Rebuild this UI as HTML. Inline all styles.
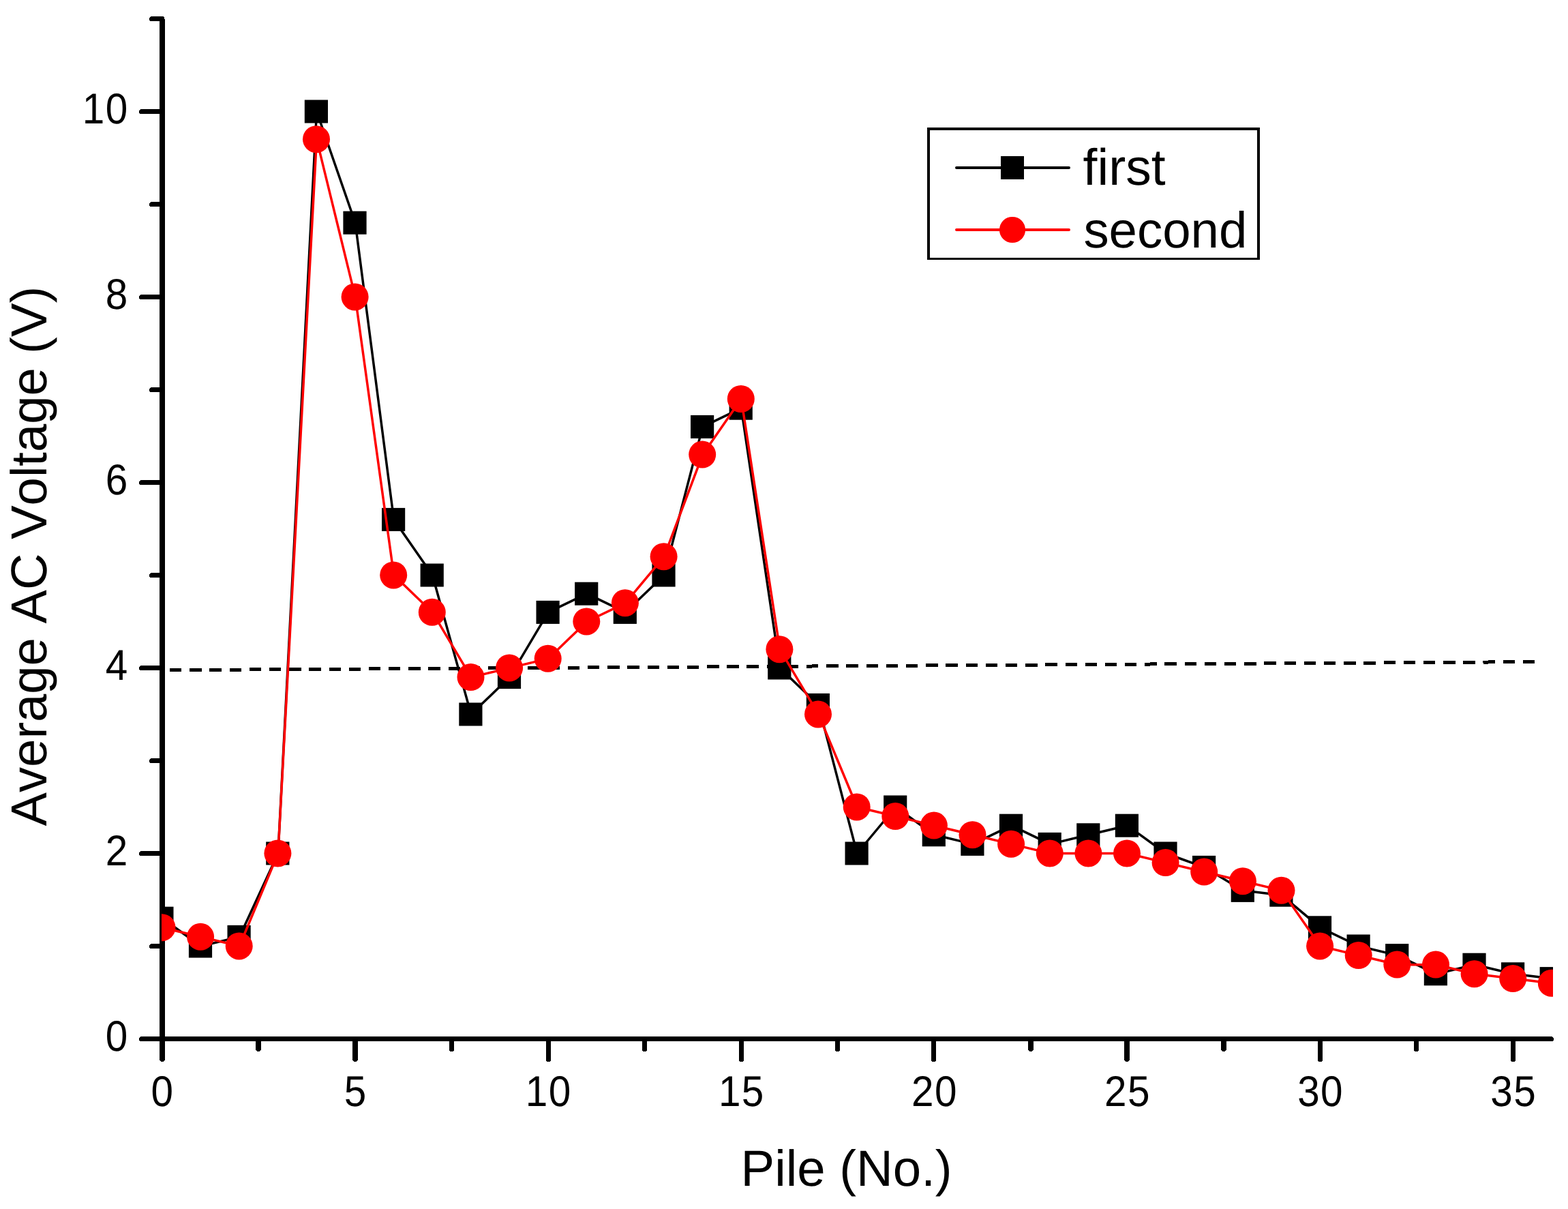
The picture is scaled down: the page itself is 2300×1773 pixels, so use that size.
<!DOCTYPE html>
<html lang="en"><head><meta charset="utf-8"><title>Average AC Voltage vs Pile No.</title>
<style>html,body{margin:0;padding:0;background:#fff}body{width:2300px;height:1773px;overflow:hidden}svg{display:block}text{font-family:"Liberation Sans",Arial,Helvetica,sans-serif;fill:#000;font-kerning:none;text-rendering:geometricPrecision}</style>
</head><body>
<svg width="2300" height="1773" viewBox="0 0 2300 1773">
<rect width="2300" height="1773" fill="#fff"/>
<defs><clipPath id="plot"><rect x="237" y="20" width="2041" height="1510"/></clipPath></defs>
<line x1="249" y1="982.7" x2="2251" y2="970.6" stroke="#000" stroke-width="5" stroke-dasharray="17.4 11.79" shape-rendering="crispEdges"/>
<g stroke="#000" fill="none" stroke-linecap="round" shape-rendering="crispEdges">
<line x1="238" y1="27.5" x2="238" y2="1523.5" stroke-width="8" stroke-linecap="butt"/>
<line x1="207.5" y1="1523.5" x2="2275.5" y2="1523.5" stroke-width="7"/>
<line x1="222.5" y1="1387.5" x2="238" y2="1387.5" stroke-width="7"/>
<line x1="207.5" y1="1251.5" x2="238" y2="1251.5" stroke-width="7"/>
<line x1="222.5" y1="1115.5" x2="238" y2="1115.5" stroke-width="7"/>
<line x1="207.5" y1="979.5" x2="238" y2="979.5" stroke-width="7"/>
<line x1="222.5" y1="843.5" x2="238" y2="843.5" stroke-width="7"/>
<line x1="207.5" y1="707.5" x2="238" y2="707.5" stroke-width="7"/>
<line x1="222.5" y1="571.5" x2="238" y2="571.5" stroke-width="7"/>
<line x1="207.5" y1="435.5" x2="238" y2="435.5" stroke-width="7"/>
<line x1="222.5" y1="299.5" x2="238" y2="299.5" stroke-width="7"/>
<line x1="207.5" y1="163.5" x2="238" y2="163.5" stroke-width="7"/>
<line x1="222.5" y1="27.5" x2="238" y2="27.5" stroke-width="7"/>
<line x1="238" y1="1523.5" x2="238" y2="1553" stroke-width="8"/>
<line x1="379" y1="1523.5" x2="379" y2="1538" stroke-width="8"/>
<line x1="521" y1="1523.5" x2="521" y2="1553" stroke-width="8"/>
<line x1="662.5" y1="1523.5" x2="662.5" y2="1538.5" stroke-width="7"/>
<line x1="804.5" y1="1523.5" x2="804.5" y2="1553.5" stroke-width="7"/>
<line x1="945.5" y1="1523.5" x2="945.5" y2="1538.5" stroke-width="7"/>
<line x1="1087.5" y1="1523.5" x2="1087.5" y2="1553.5" stroke-width="7"/>
<line x1="1228.5" y1="1523.5" x2="1228.5" y2="1538.5" stroke-width="7"/>
<line x1="1369.5" y1="1523.5" x2="1369.5" y2="1553.5" stroke-width="7"/>
<line x1="1512" y1="1523.5" x2="1512" y2="1538" stroke-width="8"/>
<line x1="1653" y1="1523.5" x2="1653" y2="1553" stroke-width="8"/>
<line x1="1795" y1="1523.5" x2="1795" y2="1538" stroke-width="8"/>
<line x1="1936.5" y1="1523.5" x2="1936.5" y2="1553.5" stroke-width="7"/>
<line x1="2077.5" y1="1523.5" x2="2077.5" y2="1538.5" stroke-width="7"/>
<line x1="2219.5" y1="1523.5" x2="2219.5" y2="1553.5" stroke-width="7"/>
</g>
<g font-size="62" letter-spacing="1.45">
<text transform="translate(188.6,1541.0) scale(0.943,1.02)" text-anchor="end">0</text>
<text transform="translate(188.6,1269.0) scale(0.943,1.02)" text-anchor="end">2</text>
<text transform="translate(188.6,997.0) scale(0.943,1.02)" text-anchor="end">4</text>
<text transform="translate(188.6,725.0) scale(0.943,1.02)" text-anchor="end">6</text>
<text transform="translate(188.6,453.0) scale(0.943,1.02)" text-anchor="end">8</text>
<text transform="translate(188.6,181.0) scale(0.943,1.02)" text-anchor="end">10</text>
<text transform="translate(238.5,1622.3) scale(0.943,1.02)" text-anchor="middle">0</text>
<text transform="translate(521.6,1622.3) scale(0.943,1.02)" text-anchor="middle">5</text>
<text transform="translate(804.7,1622.3) scale(0.943,1.02)" text-anchor="middle">10</text>
<text transform="translate(1087.8,1622.3) scale(0.943,1.02)" text-anchor="middle">15</text>
<text transform="translate(1370.9,1622.3) scale(0.943,1.02)" text-anchor="middle">20</text>
<text transform="translate(1654.0,1622.3) scale(0.943,1.02)" text-anchor="middle">25</text>
<text transform="translate(1937.1,1622.3) scale(0.943,1.02)" text-anchor="middle">30</text>
<text transform="translate(2220.2,1622.3) scale(0.943,1.02)" text-anchor="middle">35</text>
</g>
<text x="1241.6" y="1739" font-size="74.4" text-anchor="middle">Pile (No.)</text>
<text transform="translate(68,815.6) rotate(-90)" font-size="74.2" text-anchor="middle">Average AC Voltage (V)</text>
<g clip-path="url(#plot)">
<polyline points="238.0,1346.7 294.6,1387.5 351.2,1373.9 407.9,1251.5 464.5,163.5 521.1,326.7 577.7,761.9 634.3,843.5 691.0,1047.5 747.6,993.1 804.2,897.9 860.8,870.7 917.4,897.9 974.1,843.5 1030.7,625.9 1087.3,598.7 1143.9,979.5 1200.5,1033.9 1257.2,1251.5 1313.8,1183.5 1370.4,1224.3 1427.0,1237.9 1483.6,1210.7 1540.3,1237.9 1596.9,1224.3 1653.5,1210.7 1710.1,1251.5 1766.7,1271.9 1823.4,1305.9 1880.0,1312.7 1936.6,1360.3 1993.2,1387.5 2049.8,1401.1 2106.5,1428.3 2163.1,1414.7 2219.7,1428.3 2276.3,1435.1" fill="none" stroke="#000" stroke-width="3.5" stroke-linejoin="round"/>
<g fill="#000">
<rect x="220.3" y="1329.7" width="34.2" height="34"/>
<rect x="276.9" y="1370.5" width="34.2" height="34"/>
<rect x="333.5" y="1356.9" width="34.2" height="34"/>
<rect x="390.2" y="1234.5" width="34.2" height="34"/>
<rect x="446.8" y="146.5" width="34.2" height="34"/>
<rect x="503.4" y="309.7" width="34.2" height="34"/>
<rect x="560.0" y="744.9" width="34.2" height="34"/>
<rect x="616.6" y="826.5" width="34.2" height="34"/>
<rect x="673.3" y="1030.5" width="34.2" height="34"/>
<rect x="729.9" y="976.1" width="34.2" height="34"/>
<rect x="786.5" y="880.9" width="34.2" height="34"/>
<rect x="843.1" y="853.7" width="34.2" height="34"/>
<rect x="899.7" y="880.9" width="34.2" height="34"/>
<rect x="956.4" y="826.5" width="34.2" height="34"/>
<rect x="1013.0" y="608.9" width="34.2" height="34"/>
<rect x="1069.6" y="581.7" width="34.2" height="34"/>
<rect x="1126.2" y="962.5" width="34.2" height="34"/>
<rect x="1182.8" y="1016.9" width="34.2" height="34"/>
<rect x="1239.5" y="1234.5" width="34.2" height="34"/>
<rect x="1296.1" y="1166.5" width="34.2" height="34"/>
<rect x="1352.7" y="1207.3" width="34.2" height="34"/>
<rect x="1409.3" y="1220.9" width="34.2" height="34"/>
<rect x="1465.9" y="1193.7" width="34.2" height="34"/>
<rect x="1522.6" y="1220.9" width="34.2" height="34"/>
<rect x="1579.2" y="1207.3" width="34.2" height="34"/>
<rect x="1635.8" y="1193.7" width="34.2" height="34"/>
<rect x="1692.4" y="1234.5" width="34.2" height="34"/>
<rect x="1749.0" y="1254.9" width="34.2" height="34"/>
<rect x="1805.7" y="1288.9" width="34.2" height="34"/>
<rect x="1862.3" y="1295.7" width="34.2" height="34"/>
<rect x="1918.9" y="1343.3" width="34.2" height="34"/>
<rect x="1975.5" y="1370.5" width="34.2" height="34"/>
<rect x="2032.1" y="1384.1" width="34.2" height="34"/>
<rect x="2088.8" y="1411.3" width="34.2" height="34"/>
<rect x="2145.4" y="1397.7" width="34.2" height="34"/>
<rect x="2202.0" y="1411.3" width="34.2" height="34"/>
<rect x="2258.6" y="1418.1" width="34.2" height="34"/>
</g>
<polyline points="238.0,1360.3 294.6,1373.9 351.2,1387.5 407.9,1251.5 464.5,204.3 521.1,435.5 577.7,843.5 634.3,897.9 691.0,993.1 747.6,979.5 804.2,965.9 860.8,911.5 917.4,884.3 974.1,816.3 1030.7,666.7 1087.3,585.1 1143.9,952.3 1200.5,1047.5 1257.2,1183.5 1313.8,1197.1 1370.4,1210.7 1427.0,1224.3 1483.6,1237.9 1540.3,1251.5 1596.9,1251.5 1653.5,1251.5 1710.1,1265.1 1766.7,1278.7 1823.4,1292.3 1880.0,1305.9 1936.6,1387.5 1993.2,1401.1 2049.8,1414.7 2106.5,1414.7 2163.1,1428.3 2219.7,1435.1 2276.3,1441.9" fill="none" stroke="#f00" stroke-width="3.5" stroke-linejoin="round"/>
<g fill="#f00">
<circle cx="237.5" cy="1360.2" r="20.0"/>
<circle cx="294.1" cy="1373.8" r="20.0"/>
<circle cx="350.7" cy="1387.4" r="20.0"/>
<circle cx="407.4" cy="1251.4" r="20.0"/>
<circle cx="464.0" cy="204.2" r="20.0"/>
<circle cx="520.6" cy="435.4" r="20.0"/>
<circle cx="577.2" cy="843.4" r="20.0"/>
<circle cx="633.8" cy="897.8" r="20.0"/>
<circle cx="690.5" cy="993.0" r="20.0"/>
<circle cx="747.1" cy="979.4" r="20.0"/>
<circle cx="803.7" cy="965.8" r="20.0"/>
<circle cx="860.3" cy="911.4" r="20.0"/>
<circle cx="916.9" cy="884.2" r="20.0"/>
<circle cx="973.6" cy="816.2" r="20.0"/>
<circle cx="1030.2" cy="666.6" r="20.0"/>
<circle cx="1086.8" cy="585.0" r="20.0"/>
<circle cx="1143.4" cy="952.2" r="20.0"/>
<circle cx="1200.0" cy="1047.4" r="20.0"/>
<circle cx="1256.7" cy="1183.4" r="20.0"/>
<circle cx="1313.3" cy="1197.0" r="20.0"/>
<circle cx="1369.9" cy="1210.6" r="20.0"/>
<circle cx="1426.5" cy="1224.2" r="20.0"/>
<circle cx="1483.1" cy="1237.8" r="20.0"/>
<circle cx="1539.8" cy="1251.4" r="20.0"/>
<circle cx="1596.4" cy="1251.4" r="20.0"/>
<circle cx="1653.0" cy="1251.4" r="20.0"/>
<circle cx="1709.6" cy="1265.0" r="20.0"/>
<circle cx="1766.2" cy="1278.6" r="20.0"/>
<circle cx="1822.9" cy="1292.2" r="20.0"/>
<circle cx="1879.5" cy="1305.8" r="20.0"/>
<circle cx="1936.1" cy="1387.4" r="20.0"/>
<circle cx="1992.7" cy="1401.0" r="20.0"/>
<circle cx="2049.3" cy="1414.6" r="20.0"/>
<circle cx="2106.0" cy="1414.6" r="20.0"/>
<circle cx="2162.6" cy="1428.2" r="20.0"/>
<circle cx="2219.2" cy="1435.0" r="20.0"/>
<circle cx="2275.8" cy="1441.8" r="20.0"/>
</g>
</g>
<rect x="1360" y="187" width="488" height="194" fill="#000" shape-rendering="crispEdges"/>
<rect x="1364" y="191" width="480" height="187" fill="#fff" shape-rendering="crispEdges"/>
<line x1="1403" y1="246" x2="1568" y2="246" stroke="#000" stroke-width="4" stroke-linecap="round"/>
<rect x="1468" y="229" width="34" height="34" fill="#000"/>
<line x1="1403" y1="337" x2="1568" y2="337" stroke="#f00" stroke-width="4" stroke-linecap="round"/>
<circle cx="1485" cy="337" r="19.1" fill="#f00"/>
<text x="1588.6" y="271" font-size="75.1">first</text>
<text x="1589.4" y="362.5" font-size="74.4">second</text>
</svg></body></html>
